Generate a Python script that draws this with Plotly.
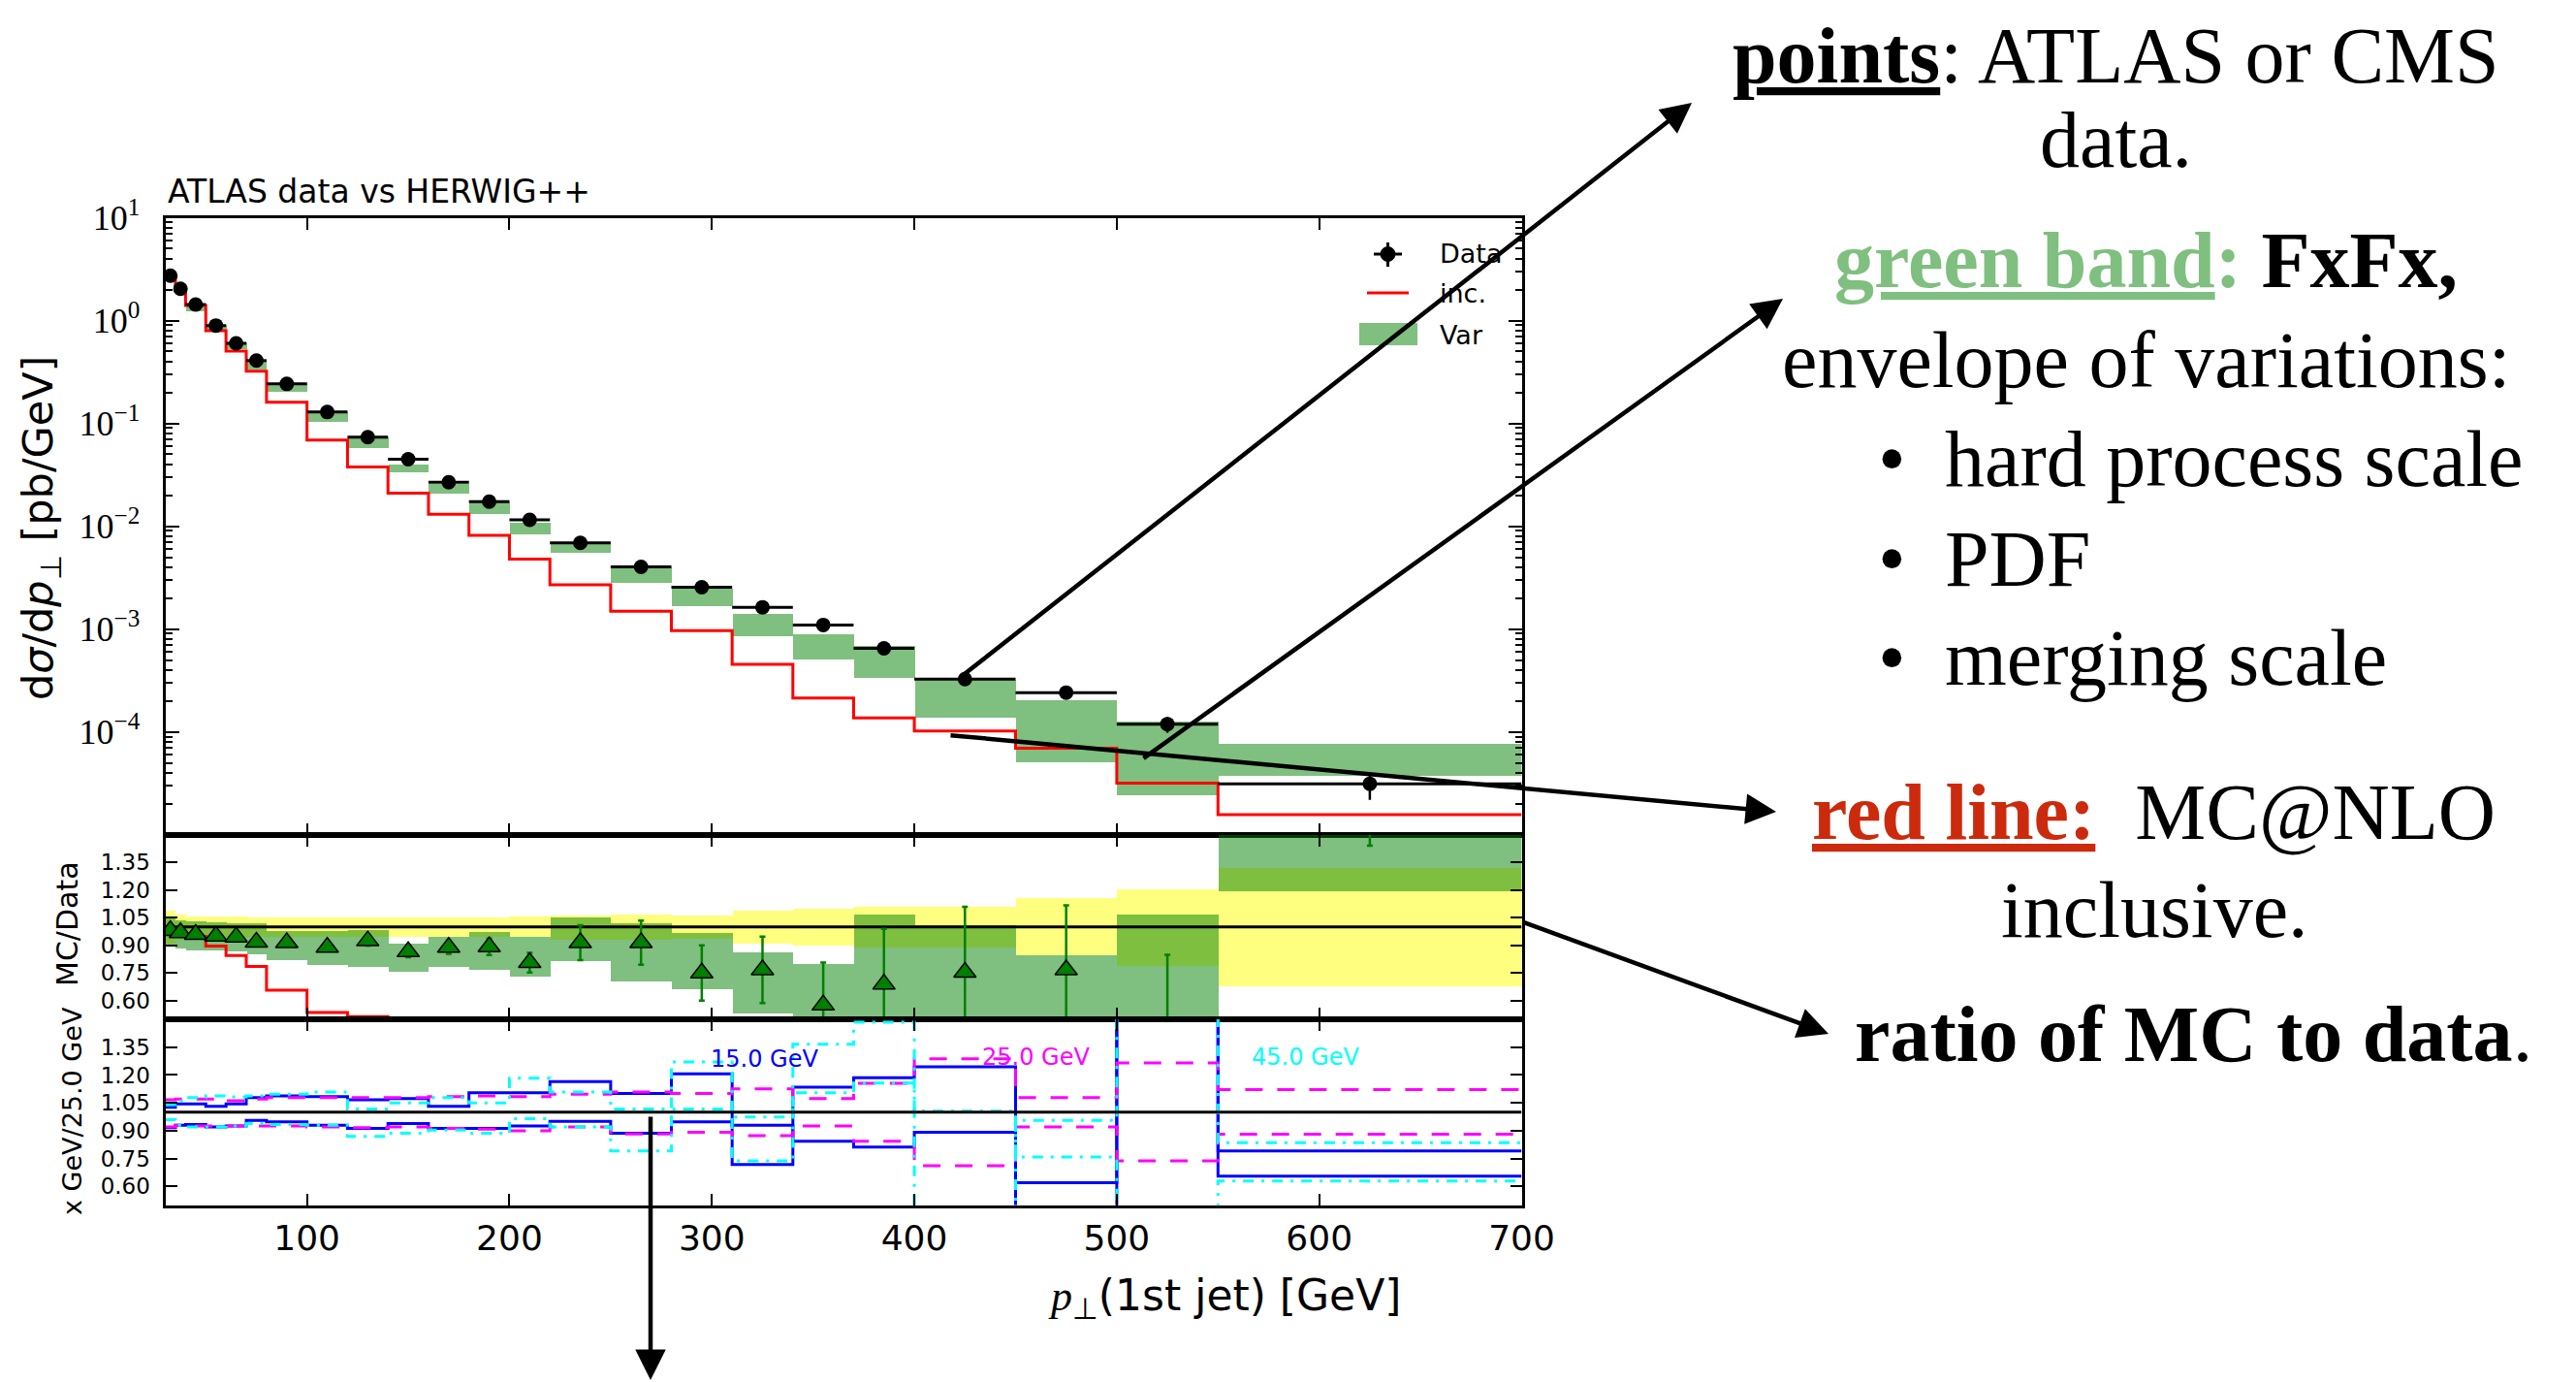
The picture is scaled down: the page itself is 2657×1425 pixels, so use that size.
import plotly.graph_objects as go

W, H = 2657, 1425
OFF = 8  # the page body margin shifts the figure by 8 px; positions below are screen pixels

# ---------------- data ----------------
bin_edges = [30, 35, 40, 50, 60, 70, 80, 100, 120, 140, 160, 180, 200, 220,
             250, 280, 310, 340, 370, 400, 450, 500, 550, 700]

data_vals = [2.73, 2.04, 1.43, 0.895, 0.60, 0.408, 0.242, 0.129, 0.0734, 0.0448,
             0.0268, 0.01733, 0.01153, 0.0069, 0.00402, 0.00255, 0.00163, 0.001096,
             6.49e-4, 3.26e-4, 2.41e-4, 1.19e-4, 3.13e-5]
data_errs = [0.05, 0.04, 0.03, 0.02, 0.012, 0.009, 0.005, 0.003, 0.0017, 0.0011,
             0.0007, 0.0005, 0.0004, 0.00025, 0.00016, 0.0001, 0.00008, 0.00006,
             0.00004, 0.00003, 0.000028, 0.000021, 0.0000095]

var_low = [2.47, 1.81, 1.245, 0.805, 0.531, 0.336, 0.205, 0.104, 0.0582, 0.0338,
           0.0210, 0.01334, 0.00847, 0.00558, 0.00286, 0.00168, 0.000859, 0.000514,
           0.000339, 0.000139, 5.13e-5, 2.45e-5, 3.79e-5]
var_high = [2.85, 2.11, 1.47, 0.923, 0.614, 0.421, 0.249, 0.130, 0.0741, 0.0406,
            0.0262, 0.01718, 0.01088, 0.00690, 0.00402, 0.00250, 0.00141, 0.000902,
            0.000695, 0.000326, 0.000205, 0.0001285, 7.69e-5]

inc_vals = [2.58, 1.96, 1.40, 0.798, 0.506, 0.321, 0.161, 0.0687, 0.0377, 0.0210,
            0.0131, 0.00814, 0.00478, 0.00270, 0.00149, 0.000966, 0.000454, 0.000213,
            0.0001364, 0.0001019, 6.92e-5, 3.18e-5, 1.57e-5]

# ratio panel (MC/Data)
data_band_low = [0.911, 0.932, 0.941, 0.944, 0.944, 0.946, 0.947, 0.948, 0.947, 0.949,
                 0.948, 0.947, 0.946, 0.935, 0.932, 0.940, 0.911, 0.900, 0.888, 0.888,
                 0.850, 0.793, 0.681]
data_band_high = [1.089, 1.068, 1.059, 1.056, 1.056, 1.054, 1.053, 1.052, 1.053, 1.054,
                  1.054, 1.055, 1.056, 1.065, 1.068, 1.066, 1.090, 1.100, 1.110, 1.110,
                  1.159, 1.206, 1.320]
ratio_var_low = [0.903, 0.885, 0.876, 0.873, 0.868, 0.856, 0.824, 0.798, 0.786, 0.758,
                 0.786, 0.769, 0.735, 0.815, 0.705, 0.664, 0.531, 0.460, 0.519, 0.420,
                 0.210, 0.210, 1.195]
ratio_var_high = [1.047, 1.037, 1.030, 1.025, 1.021, 1.020, 0.981, 0.981, 0.983, 0.911,
                  0.949, 0.976, 0.946, 1.054, 1.022, 0.970, 0.866, 0.803, 1.070, 1.011,
                  0.850, 1.070, 2.450]
ratio_inc = [0.960, 0.955, 0.949, 0.897, 0.845, 0.786, 0.658, 0.537, 0.514, 0.470,
             0.490, 0.470, 0.410, 0.390, 0.370, 0.380, 0.280, 0.190, 0.210, 0.310,
             0.290, 0.270, 0.490]
ratio_mc = [0.981, 0.969, 0.960, 0.951, 0.946, 0.918, 0.915, 0.890, 0.925, 0.866,
            0.890, 0.893, 0.807, 0.915, 0.915, 0.751, 0.768, 0.577, 0.690, 0.755,
            0.768, 0.400, 1.750]
ratio_mc_err = [0.01, 0.01, 0.01, 0.01, 0.012, 0.014, 0.016, 0.02, 0.025, 0.03,
                0.035, 0.045, 0.053, 0.095, 0.12, 0.15, 0.18, 0.23, 0.30, 0.355,
                0.35, 0.45, 0.31]

# merging-scale panel (x GeV / 25.0 GeV)
ms15_a = [1.026, 1.044, 1.044, 1.031, 1.044, 1.078, 1.087, 1.083, 1.066, 1.073, 1.031,
          1.104, 1.104, 1.165, 1.101, 1.206, 0.718, 1.134, 1.186, 1.244, 0.620, 1.600, 0.655]
ms15_b = [0.916, 0.930, 0.933, 0.921, 0.926, 0.956, 0.948, 0.930, 0.913, 0.939, 0.913,
          0.913, 0.926, 0.951, 0.887, 0.948, 0.930, 0.843, 0.812, 0.892, 0.400, 1.600, 0.791]
ms25_a = [1.066, 1.070, 1.070, 1.070, 1.061, 1.070, 1.078, 1.078, 1.078, 1.078, 1.083,
          1.087, 1.083, 1.096, 1.108, 1.101, 1.125, 1.073, 1.155, 1.287, 1.078, 1.265, 1.122]
ms25_b = [0.921, 0.930, 0.926, 0.926, 0.926, 0.926, 0.926, 0.921, 0.917, 0.921, 0.913,
          0.908, 0.899, 0.921, 0.883, 0.892, 0.874, 0.925, 0.843, 0.712, 0.921, 0.738, 0.881]
ms45_a = [1.040, 1.060, 1.078, 1.087, 1.082, 1.087, 1.096, 1.108, 1.017, 1.050, 1.078,
          1.049, 1.183, 1.108, 1.017, 1.270, 0.974, 1.366, 1.484, 0.450, 0.956, 1.600, 0.835]
ms45_b = [0.960, 0.930, 0.921, 0.921, 0.926, 0.939, 0.934, 0.930, 0.869, 0.887, 0.904,
          0.887, 0.965, 0.921, 0.791, 1.017, 0.738, 1.104, 1.157, 1.005, 0.759, 0.400, 0.629]

ms_labels = ["15.0 GeV", "25.0 GeV", "45.0 GeV"]
ms_label_x = [326, 460, 593]
ms_label_y = [1.287, 1.296, 1.296]

legend_labels = ["Data", "inc.", "Var"]

main_yticks = [1e-4, 1e-3, 1e-2, 1e-1, 1e0, 1e1]
main_yticktext = ["10<sup>−4</sup>", "10<sup>−3</sup>", "10<sup>−2</sup>",
                  "10<sup>−1</sup>", "10<sup>0</sup>", "10<sup>1</sup>"]
ratio_ticks = [0.60, 0.75, 0.90, 1.05, 1.20, 1.35]
x_ticks = [100, 200, 300, 400, 500, 600, 700]

# ---------------- derived ----------------
centers = [(a + b) / 2 for a, b in zip(bin_edges[:-1], bin_edges[1:])]
widths = [b - a for a, b in zip(bin_edges[:-1], bin_edges[1:])]
halfw = [w / 2 for w in widths]


def step(vals):
    return bin_edges, list(vals) + [vals[-1]]


GREEN = "rgba(0,128,0,0.5)"
YELLOW = "rgba(255,255,0,0.5)"
SANS = "DejaVu Sans"
SERIF = "Liberation Serif"

fig = go.Figure()

# ---- main panel ----
fig.add_trace(go.Bar(x=centers, y=[h - l for h, l in zip(var_high, var_low)], base=var_low,
                     width=widths, marker=dict(color=GREEN, line=dict(width=0)),
                     name="Var", xaxis="x", yaxis="y"))
sx, sy = step(inc_vals)
fig.add_trace(go.Scatter(x=sx, y=sy, mode="lines", line=dict(color="red", width=3, shape="hv"),
                         name="inc.", xaxis="x", yaxis="y"))
fig.add_trace(go.Scatter(
    x=centers, y=data_vals, mode="markers", name="Data",
    marker=dict(color="black", size=15, symbol="circle"),
    error_x=dict(type="data", array=halfw, color="black", thickness=3, width=0),
    error_y=dict(type="data", array=data_errs, color="black", thickness=2.5, width=0),
    xaxis="x", yaxis="y"))

# ---- ratio panel ----
fig.add_trace(go.Bar(x=centers, y=[h - l for h, l in zip(data_band_high, data_band_low)],
                     base=data_band_low, width=widths,
                     marker=dict(color=YELLOW, line=dict(width=0)),
                     xaxis="x2", yaxis="y2"))
fig.add_trace(go.Bar(x=centers, y=[h - l for h, l in zip(ratio_var_high, ratio_var_low)],
                     base=ratio_var_low, width=widths,
                     marker=dict(color=GREEN, line=dict(width=0)),
                     xaxis="x2", yaxis="y2"))
sx, sy = step(ratio_inc)
fig.add_trace(go.Scatter(x=sx, y=sy, mode="lines", line=dict(color="red", width=3, shape="hv"),
                         xaxis="x2", yaxis="y2"))
fig.add_trace(go.Scatter(x=[bin_edges[0], bin_edges[-1]], y=[1, 1], mode="lines",
                         line=dict(color="black", width=3), xaxis="x2", yaxis="y2"))
fig.add_trace(go.Scatter(
    x=centers, y=ratio_mc, mode="markers",
    marker=dict(symbol="triangle-up", size=20, color="green", line=dict(color="black", width=1.5)),
    error_y=dict(type="data", array=ratio_mc_err, color="green", thickness=2.5, width=3),
    xaxis="x2", yaxis="y2"))

# ---- merging scale panel ----
for vals, col, dash in [(ms15_a, "blue", "solid"), (ms15_b, "blue", "solid"),
                        (ms25_a, "magenta", "18px,15px"), (ms25_b, "magenta", "18px,15px"),
                        (ms45_a, "cyan", "11px,8px,3px,8px"), (ms45_b, "cyan", "11px,8px,3px,8px")]:
    sx, sy = step(vals)
    fig.add_trace(go.Scatter(x=sx, y=sy, mode="lines",
                             line=dict(color=col, width=3, shape="hv", dash=dash),
                             xaxis="x3", yaxis="y3"))
fig.add_trace(go.Scatter(x=[bin_edges[0], bin_edges[-1]], y=[1, 1], mode="lines",
                         line=dict(color="black", width=3), xaxis="x3", yaxis="y3"))


# ---------------- layout ----------------
def px(x):
    return (x - OFF) / W


def py(y):
    return 1 - (y - OFF) / H


xd = [px(170.5), px(1569.5)]
d_main = [py(860.7), py(224.5)]
d_ratio = [py(1051), py(860.7)]
d_ms = [py(1242.5), py(1051)]

common_x = dict(range=[30, 700], tickvals=x_ticks, ticks="inside", ticklen=12, tickwidth=2,
                tickcolor="black", showline=True, linecolor="black", linewidth=3,
                mirror="ticks", showgrid=False, zeroline=False, automargin=False)
common_ry = dict(range=[0.5, 1.5], tickvals=ratio_ticks, ticktext=[f"{v:.2f}" for v in ratio_ticks],
                 ticks="inside", ticklen=12, tickwidth=2, tickcolor="black", showline=True,
                 linecolor="black", linewidth=3, mirror="ticks", showgrid=False, zeroline=False,
                 tickfont=dict(family=SANS, size=23, color="black"), ticklabelstandoff=8,
                 automargin=False)

fig.update_layout(
    width=W, height=H, margin=dict(l=0, r=0, t=0, b=0, pad=0, autoexpand=False),
    paper_bgcolor="white", plot_bgcolor="white", barmode="overlay", bargap=0,
    showlegend=False,
    xaxis=dict(domain=xd, anchor="y", showticklabels=False, **common_x),
    xaxis2=dict(domain=xd, anchor="y2", showticklabels=False, matches="x", **common_x),
    xaxis3=dict(domain=xd, anchor="y3", showticklabels=True, matches="x",
                tickfont=dict(family=SANS, size=36, color="black"), ticklabelstandoff=0,
                **common_x),
    yaxis=dict(domain=d_main, anchor="x", type="log", range=[-5, 1], tickvals=main_yticks,
               ticktext=main_yticktext, ticks="inside", ticklen=14, tickwidth=2,
               tickcolor="black", showline=True, linecolor="black", linewidth=3,
               mirror="ticks", showgrid=False, zeroline=False, automargin=False,
               tickfont=dict(family=SERIF, size=36, color="black"), ticklabelstandoff=16,
               minor=dict(ticks="inside", ticklen=7, tickwidth=1.5, tickcolor="black",
                          dtick="D1", showgrid=False)),
    yaxis2=dict(domain=d_ratio, anchor="x2", **common_ry),
    yaxis3=dict(domain=d_ms, anchor="x3", **common_ry),
)

ann = []


def text(t, x, y, size, color="black", family=SANS, xanchor="center", angle=0, **kw):
    d = dict(text=t, x=px(x), y=py(y), xref="paper", yref="paper", xanchor=xanchor,
             yanchor="middle", showarrow=False, textangle=angle,
             font=dict(family=family, size=size, color=color))
    d.update(kw)
    ann.append(d)


# chart texts
text("ATLAS data vs HERWIG++", 171, 197, 33, xanchor="left")
text("d<i>σ</i>/d<i>p</i><sub>⊥</sub> [pb/GeV]", 42, 545, 43, angle=-90)
text("MC/Data", 70, 953, 30, angle=-90)
text("x GeV/25.0 GeV", 74, 1146, 27, angle=-90)
text("<span style='font-family:Liberation Serif'><i>p</i></span><sub>⊥</sub>(1st jet) [GeV]",
     1263, 1338, 44)
for t, xv, yv, c in zip(ms_labels, ms_label_x, ms_label_y, ["blue", "magenta", "cyan"]):
    ann.append(dict(text=t, x=xv, y=yv, xref="x3", yref="y3", xanchor="center",
                    yanchor="middle", showarrow=False,
                    font=dict(family=SANS, size=24, color=c)))

# legend (drawn by hand, matplotlib-like)
shapes = []
for lab, yy in zip(legend_labels, [262, 302, 345]):
    text(lab, 1483, yy, 27, xanchor="left")
shapes.append(dict(type="line", xref="paper", yref="paper", x0=px(1417), x1=px(1446),
                   y0=py(262), y1=py(262), line=dict(color="black", width=3)))
shapes.append(dict(type="line", xref="paper", yref="paper", x0=px(1431.5), x1=px(1431.5),
                   y0=py(250), y1=py(275), line=dict(color="black", width=3)))
shapes.append(dict(type="circle", xref="paper", yref="paper", x0=px(1424), x1=px(1439),
                   y0=py(254.5), y1=py(269.5), fillcolor="black", line=dict(color="black", width=1)))
shapes.append(dict(type="line", xref="paper", yref="paper", x0=px(1410), x1=px(1453),
                   y0=py(302), y1=py(302), line=dict(color="red", width=3)))
shapes.append(dict(type="rect", xref="paper", yref="paper", x0=px(1402), x1=px(1462),
                   y0=py(333), y1=py(356), fillcolor=GREEN, line=dict(width=0)))

# explanatory texts
TF = 82
text("<b><u>points</u></b>: ATLAS or CMS", 2182, 57, TF, family=SERIF)
text("data.", 2182, 144, TF, family=SERIF)
text("<b><u>green band</u>:</b> <b><span style='color:black'>FxFx,</span></b>",
     2213, 268, TF, color="#7fbf7f", family=SERIF)
text("envelope of variations:", 2213, 372, TF, family=SERIF)
for t, yy in [("hard process scale", 474), ("PDF", 576), ("merging scale", 678)]:
    text("•", 1951, yy, TF, family=SERIF)
    text(t, 2004, yy, TF, family=SERIF, xanchor="left")
text("<b><u>red line:</u></b>  <span style='color:black'>MC@NLO</span>",
     2221, 837, TF, color="#cc2a0c", family=SERIF)
text("inclusive.", 2222, 938, TF, family=SERIF)
text("<b>ratio of MC to data</b>.", 2262, 1066, TF, family=SERIF)

# arrows (tip, tail) in screen pixels
arrows = [((1745, 106), (991, 698)), ((1839, 308), (1178, 783)),
          ((1832, 837), (979, 758)), ((1886, 1066), (1569, 950)),
          ((671, 1423), (671, 1150))]
for (tx, ty), (sx_, sy_) in arrows:
    ann.append(dict(x=px(tx), y=py(ty), xref="paper", yref="paper", text="",
                    showarrow=True, ax=sx_ - tx, ay=sy_ - ty, axref="pixel", ayref="pixel",
                    arrowhead=2, arrowsize=1.4, arrowwidth=4.5, arrowcolor="black", standoff=0))

fig.update_layout(annotations=ann, shapes=shapes)
fig.write_html("out.html")
